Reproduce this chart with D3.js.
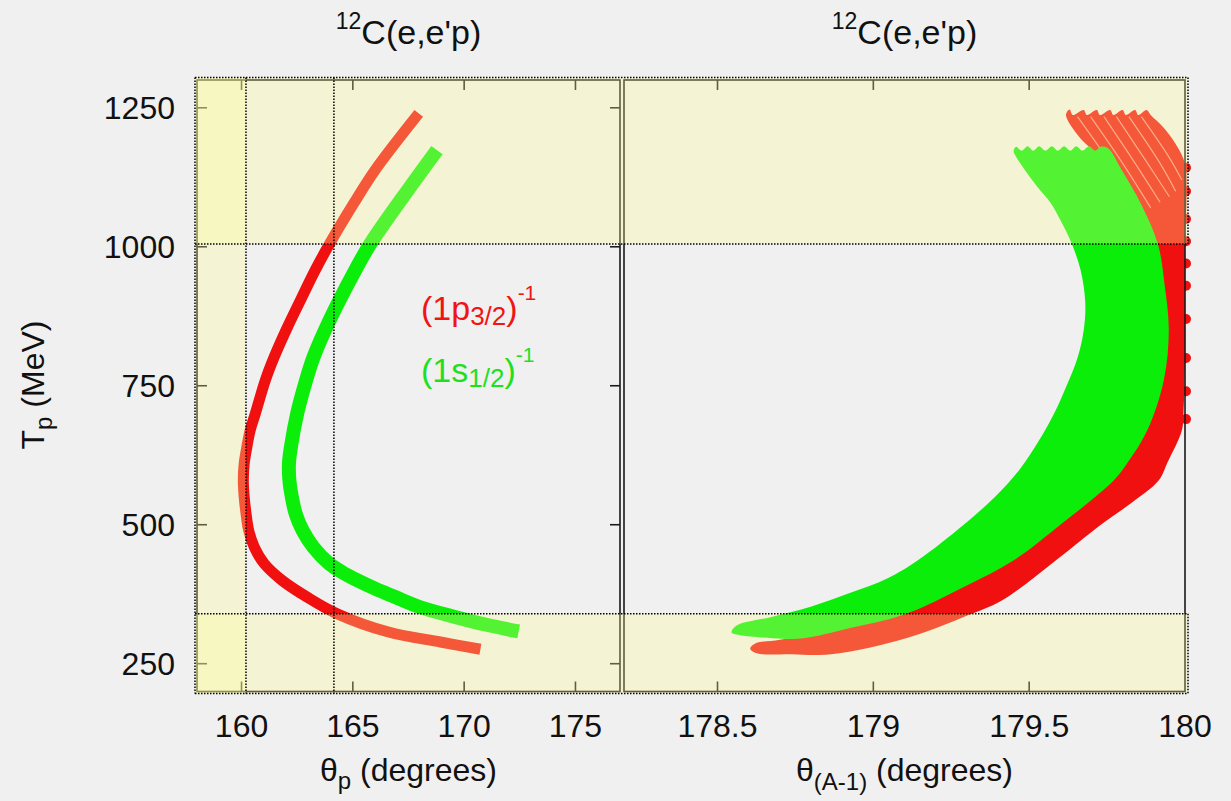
<!DOCTYPE html>
<html>
<head>
<meta charset="utf-8">
<script src="https://cdn.jsdelivr.net/npm/d3@7"></script>
<style>
  body { margin: 0; background: #f0f0f0; }
  svg { display: block; font-family: "Liberation Sans", Arial, Helvetica, sans-serif; }
</style>
</head>
<body>
<svg id="chart" width="1231" height="801"></svg>
<script>
// ---- axis ticks ----
const yTicks = [250, 500, 750, 1000, 1250];
const xTicksLeft = [160, 165, 170, 175];
const xTicksRight = [178.5, 179, 179.5, 180];
const xTickLabelsRight = ["178.5", "179", "179.5", "180"];

// ---- kinematic cuts ----
const cutT = [340, 1005];          // T_p window (MeV)
const cutThetaP = [160.2, 164.15]; // theta_p limits (deg)

// ---- left panel: proton angle vs kinetic energy [theta_p, T_p] ----
const p32Left = [
  [167.96,1240],[166.0,1138],[165.04,1078],[163.95,1005],[163.31,958],[162.6,900],
  [162.0,850],[161.45,800],[161.07,760],[160.62,700],[160.39,670],[160.24,640],
  [160.12,610],[160.08,580],[160.12,550],[160.2,521],[160.32,490],[160.57,460],
  [161.02,430],[161.82,400],[162.94,370],[164.29,340],[166.6,307],[168.93,289],
  [170.73,276]
];
const s12Left = [
  [168.78,1174],[167.58,1108],[165.78,1005],[165.11,958],[164.35,900],[163.75,850],
  [163.22,800],[162.9,760],[162.5,700],[162.22,640],[162.13,610],[162.15,580],
  [162.26,550],[162.43,520],[162.74,490],[163.22,460],[163.94,430],[164.5,415],
  [165.2,400],[166.0,385],[166.9,370],[168.0,352],[169.5,335],[171.0,320],[172.45,308]
];

// ---- right panel: recoil angle band outlines [theta_(A-1), T_p] ----
const p32RightInner = [
  [178.62,286],[178.70,293],[178.80,305],[178.95,335],[179.10,385],[179.20,436],
  [179.35,500],[179.60,600],[179.78,700],[179.87,800],[179.90,900],[179.88,1005],
  [179.83,1078],[179.77,1138],[179.698,1177],[179.66,1198],[179.618,1237]
];
const p32RightTop = [
  [179.63,1247],[179.64,1237],[179.675,1246],[179.685,1237],[179.717,1246],[179.727,1237],
  [179.76,1246],[179.77,1237],[179.80,1246],[179.81,1237],[179.84,1246],[179.85,1237],
  [179.877,1246]
];
const p32RightOuter = [
  [179.89,1237],[179.93,1215],[179.97,1185],[180.0,1150],[180.005,1100],[180.0,1000],
  [180.0,900],[180.0,800],[179.995,700],[179.99,670],[179.943,611],[179.916,580],
  [179.83,540],[179.73,500],[179.587,436.5],[179.415,364.6],[179.292,334.5],
  [179.169,307.6],[179.046,286.7],[178.922,271.6],[178.824,265.6],[178.738,267],
  [178.627,268.7],[178.605,277]
];
const p32RightEdgeTips = [690, 740, 800, 870, 930, 970, 1010, 1050, 1100, 1142];
const p32RightGaps = [
  [[179.655,1234],[179.76,1150],[179.86,1060]],
  [[179.697,1234],[179.80,1150],[179.89,1070]],
  [[179.74,1234],[179.84,1150],[179.92,1080]],
  [[179.78,1234],[179.88,1150],[179.95,1090]],
  [[179.82,1234],[179.92,1150],[179.97,1100]],
  [[179.86,1234],[179.95,1160],[179.99,1120]]
];

const s12RightLeft = [
  [178.559,318],[178.676,334.5],[178.799,352.5],[178.922,376.6],[179.046,403.6],
  [179.144,436.5],[179.29,500],[179.39,550],[179.47,600],[179.53,650],[179.58,700],
  [179.62,750],[179.655,800],[179.675,850],[179.68,900],[179.665,958],[179.637,1005],
  [179.6,1048],[179.57,1078],[179.526,1108],[179.458,1162],[179.45,1172]
];
const s12RightTop = [
  [179.458,1180],[179.476,1173],[179.495,1181],[179.513,1173],[179.532,1181],
  [179.552,1173],[179.573,1181],[179.592,1173],[179.612,1181],[179.632,1173],
  [179.651,1181],[179.671,1173],[179.692,1181],[179.712,1173],[179.73,1180]
];
const s12RightRight = [
  [179.754,1177],[179.797,1138],[179.858,1078],[179.913,1005],[179.935,930],
  [179.948,850],[179.932,760],[179.879,670],[179.815,611],[179.772,580],[179.69,540],
  [179.6,500],[179.452,436.5],[179.292,388.5],[179.101,338.8],[178.922,313.6],
  [178.775,295.6],[178.676,296],[178.57,301.6],[178.545,306]
];

// ---- colours ----
const RED = "#f01010";
const GREEN = "#0aee0a";

// ---- scales ----
const xL = d3.scaleLinear().domain([158, 177]).range([197, 620]);
const xR = d3.scaleLinear().domain([178.2, 180]).range([624, 1185]);
const y = d3.scaleLinear().domain([200, 1300]).range([691.5, 80]);

const svg = d3.select("#chart");

// ---- left panel curves ----
const gL = svg.append("g");
const lineL = d3.line().x(d => xL(d[0])).y(d => y(d[1])).curve(d3.curveCatmullRom.alpha(0.5));
gL.append("path").datum(p32Left).attr("d", lineL)
  .attr("fill", "none").attr("stroke", RED).attr("stroke-width", 11);
gL.append("path").datum(s12Left).attr("d", lineL)
  .attr("fill", "none").attr("stroke", GREEN).attr("stroke-width", 14);

// ---- right panel bands ----
const gR = svg.append("g");
const shapeR = d3.line().x(d => xR(d[0])).y(d => y(d[1])).curve(d3.curveCatmullRomClosed.alpha(0.5));
const lineR = d3.line().x(d => xR(d[0])).y(d => y(d[1])).curve(d3.curveCatmullRom.alpha(0.5));

gR.selectAll("circle.tip").data(p32RightEdgeTips).join("circle")
  .attr("class", "tip").attr("cx", xR(180) + 1).attr("cy", d => y(d)).attr("r", 5).attr("fill", RED);
gR.append("path").datum(p32RightInner.concat(p32RightTop, p32RightOuter)).attr("d", shapeR)
  .attr("fill", RED);
gR.selectAll("path.gap").data(p32RightGaps).join("path")
  .attr("class", "gap").attr("d", lineR).attr("fill", "none")
  .attr("stroke", "#f88a80").attr("stroke-width", 1.2);
gR.append("path").datum(s12RightLeft.concat(s12RightTop, s12RightRight)).attr("d", shapeR)
  .attr("fill", GREEN);

// ---- frames and ticks ----
const frame = svg.append("g").attr("stroke", "#1a1a1a").attr("stroke-width", 1.6).attr("fill", "none");
frame.append("rect").attr("x", xL.range()[0]).attr("y", y.range()[1])
  .attr("width", xL.range()[1] - xL.range()[0]).attr("height", y.range()[0] - y.range()[1]);
frame.append("rect").attr("x", xR.range()[0]).attr("y", y.range()[1])
  .attr("width", xR.range()[1] - xR.range()[0]).attr("height", y.range()[0] - y.range()[1]);

const TL = 10;
yTicks.forEach(v => {
  frame.append("line").attr("x1", xL.range()[0]).attr("x2", xL.range()[0] + TL).attr("y1", y(v)).attr("y2", y(v));
  frame.append("line").attr("x1", xL.range()[1]).attr("x2", xL.range()[1] - TL).attr("y1", y(v)).attr("y2", y(v));
});
xTicksLeft.forEach(v => {
  frame.append("line").attr("x1", xL(v)).attr("x2", xL(v)).attr("y1", y.range()[0]).attr("y2", y.range()[0] - TL);
  frame.append("line").attr("x1", xL(v)).attr("x2", xL(v)).attr("y1", y.range()[1]).attr("y2", y.range()[1] + TL);
});
xTicksRight.slice(0, 3).forEach(v => {
  frame.append("line").attr("x1", xR(v)).attr("x2", xR(v)).attr("y1", y.range()[0]).attr("y2", y.range()[0] - TL);
  frame.append("line").attr("x1", xR(v)).attr("x2", xR(v)).attr("y1", y.range()[1]).attr("y2", y.range()[1] + TL);
});

// ---- excluded kinematic regions (translucent) ----
const X0 = 195, X1 = 1188, Y0 = 77.5, Y1 = 693.5;
const shade = svg.append("g").attr("fill", "#ffff99").attr("fill-opacity", 0.3);
shade.append("rect").attr("x", X0).attr("y", Y0).attr("width", X1 - X0).attr("height", y(cutT[1]) - Y0);
shade.append("rect").attr("x", X0).attr("y", y(cutT[0])).attr("width", X1 - X0).attr("height", Y1 - y(cutT[0]));
shade.append("rect").attr("x", X0).attr("y", Y0).attr("width", xL(cutThetaP[0]) - X0).attr("height", Y1 - Y0);

const dots = svg.append("g").attr("stroke", "#000").attr("stroke-width", 1.5)
  .attr("stroke-dasharray", "1.5,1.5").attr("fill", "none");
[Y0, Y1, y(cutT[0]), y(cutT[1])].forEach(yy =>
  dots.append("line").attr("x1", X0).attr("x2", X1).attr("y1", yy).attr("y2", yy));
[X0, xL(cutThetaP[0]), xL(cutThetaP[1])].forEach(xx =>
  dots.append("line").attr("x1", xx).attr("x2", xx).attr("y1", Y0).attr("y2", Y1));
dots.append("line").attr("x1", X1).attr("x2", X1).attr("y1", Y0).attr("y2", y(cutT[1]));
dots.append("line").attr("x1", X1).attr("x2", X1).attr("y1", y(cutT[0])).attr("y2", Y1);

// ---- tick labels ----
const FS = 32;
const txt = svg.append("g").attr("fill", "#111");
yTicks.forEach(v => txt.append("text").attr("x", 175).attr("y", y(v) + 11)
  .attr("text-anchor", "end").attr("font-size", FS).text(v));
xTicksLeft.forEach(v => txt.append("text").attr("x", xL(v)).attr("y", 737)
  .attr("text-anchor", "middle").attr("font-size", FS).text(v));
xTicksRight.forEach((v, i) => txt.append("text").attr("x", xR(v)).attr("y", 737)
  .attr("text-anchor", "middle").attr("font-size", FS).text(xTickLabelsRight[i]));

// ---- titles ----
[ (xL.range()[0] + xL.range()[1]) / 2, (xR.range()[0] + xR.range()[1]) / 2 ].forEach(cx => {
  const t = txt.append("text").attr("x", cx).attr("y", 44).attr("text-anchor", "middle").attr("font-size", 34);
  t.append("tspan").attr("font-size", 23).attr("dy", -15).text("12");
  t.append("tspan").attr("dy", 15).text("C(e,e'p)");
});

// ---- axis titles ----
const xtL = txt.append("text").attr("x", (xL.range()[0] + xL.range()[1]) / 2).attr("y", 781)
  .attr("text-anchor", "middle").attr("font-size", FS);
xtL.append("tspan").text("θ");
xtL.append("tspan").attr("font-size", 24).attr("dy", 8).text("p");
xtL.append("tspan").attr("dy", -8).text(" (degrees)");

const xtR = txt.append("text").attr("x", (xR.range()[0] + xR.range()[1]) / 2).attr("y", 781)
  .attr("text-anchor", "middle").attr("font-size", FS);
xtR.append("tspan").text("θ");
xtR.append("tspan").attr("font-size", 24).attr("dy", 9).text("(A-1)");
xtR.append("tspan").attr("dy", -9).text(" (degrees)");

const yt = txt.append("text").attr("transform", "translate(44,385) rotate(-90)")
  .attr("text-anchor", "middle").attr("font-size", FS);
yt.append("tspan").text("T");
yt.append("tspan").attr("font-size", 24).attr("dy", 8).text("p");
yt.append("tspan").attr("dy", -8).text(" (MeV)");

// ---- legend ----
function orbital(ySpot, main, sub, color) {
  const t = svg.append("text").attr("x", 421).attr("y", ySpot).attr("font-size", 34).attr("fill", color);
  t.append("tspan").text(main);
  t.append("tspan").attr("font-size", 26).attr("dy", 5).text(sub);
  t.append("tspan").attr("dy", -5).text(")");
  t.append("tspan").attr("font-size", 21).attr("dy", -20).text("-1");
}
orbital(320, "(1p", "3/2", "#f01414");
orbital(382, "(1s", "1/2", "#1ee01e");
</script>
</body>
</html>
